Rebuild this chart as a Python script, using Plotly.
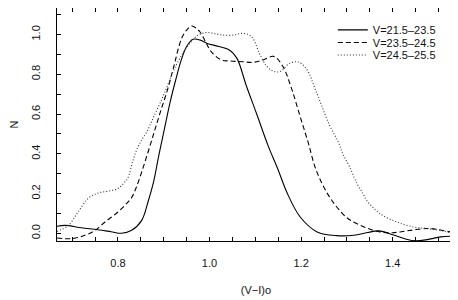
import plotly.graph_objects as go

# Solid: V=21.5-23.5
x1 = [0.667, 0.685, 0.72, 0.756, 0.785, 0.808, 0.83, 0.852, 0.866, 0.878, 0.89, 0.902, 0.914, 0.926,
      0.938, 0.95, 0.964, 0.98, 0.995, 1.02, 1.045, 1.06, 1.08, 1.103, 1.128, 1.148, 1.17, 1.198,
      1.235, 1.278, 1.315, 1.345, 1.37, 1.40, 1.43, 1.45, 1.475, 1.505, 1.535]
y1 = [0.035, 0.04, 0.028, 0.018, 0.008, 0.0, 0.015, 0.065, 0.16, 0.26, 0.40, 0.53, 0.66, 0.77,
      0.87, 0.94, 0.976, 0.972, 0.955, 0.94, 0.92, 0.88, 0.745, 0.60, 0.44, 0.33, 0.20, 0.082,
      0.007, -0.012, -0.01, 0.004, 0.012, -0.007, -0.03, -0.038, -0.032, -0.018, -0.014]

# Dashed: V=23.5-24.5
x2 = [0.667, 0.699, 0.728, 0.75, 0.772, 0.80, 0.819, 0.83, 0.84, 0.855, 0.87, 0.882, 0.894, 0.908,
      0.921, 0.939, 0.951, 0.961, 0.979, 0.992, 1.004, 1.026, 1.045, 1.074, 1.095, 1.117, 1.14,
      1.16, 1.179, 1.197, 1.215, 1.233, 1.262, 1.298, 1.32, 1.346, 1.372, 1.40, 1.43, 1.474,
      1.496, 1.525, 1.535]
y2 = [-0.024, -0.027, -0.01, 0.015, 0.057, 0.107, 0.15, 0.18, 0.23, 0.33, 0.44, 0.53, 0.62, 0.72,
      0.83, 0.98, 1.025, 1.043, 1.014, 0.96, 0.913, 0.872, 0.867, 0.863, 0.86, 0.872, 0.89,
      0.84, 0.729, 0.594, 0.46, 0.317, 0.183, 0.082, 0.05, 0.024, 0.007, 0.003, 0.012, 0.024,
      0.02, 0.007, 0.003]

# Dotted: V=24.5-25.5
x3 = [0.667, 0.692, 0.713, 0.735, 0.757, 0.779, 0.80, 0.812, 0.822, 0.832, 0.841, 0.852, 0.863,
      0.877, 0.895, 0.906, 0.92, 0.935, 0.957, 0.975, 0.993, 1.012, 1.03, 1.052, 1.07, 1.085,
      1.095, 1.11, 1.125, 1.14, 1.153, 1.175, 1.193, 1.211, 1.233, 1.262, 1.281, 1.291, 1.306,
      1.322, 1.335, 1.343, 1.372, 1.409, 1.445, 1.474, 1.51, 1.535]
y3 = [0.01, 0.04, 0.107, 0.175, 0.203, 0.212, 0.225, 0.25, 0.28, 0.36, 0.42, 0.47, 0.51,
      0.58, 0.67, 0.73, 0.81, 0.88, 0.956, 0.997, 1.01, 1.004, 0.997, 0.997, 1.006, 1.0,
      0.98, 0.90, 0.84, 0.815, 0.813, 0.855, 0.862, 0.83, 0.712, 0.544, 0.46, 0.40, 0.334,
      0.25, 0.20, 0.166, 0.099, 0.057, 0.032, 0.024, 0.012, -0.005]

names = ["V=21.5\u201323.5", "V=23.5\u201324.5", "V=24.5\u201325.5"]
dashes = ["solid", "5px,3px", "1px,2px"]
colors = ["black", "black", "#333333"]
legend_ids = ["legend", "legend2", "legend3"]

FONT = "Liberation Sans, Arial, Helvetica, sans-serif"
fig = go.Figure()
for xs, ys, nm, ds, col, lg in zip([x1, x2, x3], [y1, y2, y3], names, dashes, colors, legend_ids):
    fig.add_trace(go.Scatter(x=xs, y=ys, mode="lines", name=nm, legend=lg,
                             line=dict(color=col, width=1.1, dash=ds, shape="spline", smoothing=1.0)))

leg_common = dict(x=0.693, xanchor="left", yanchor="middle", bgcolor="rgba(0,0,0,0)",
                  borderwidth=0, font=dict(family=FONT, size=11, color="#111"))
fig.update_layout(
    width=450, height=292,
    margin=dict(l=49, r=3, t=0, b=59, autoexpand=False),
    paper_bgcolor="white", plot_bgcolor="white",
    font=dict(family=FONT, size=11, color="#111"),
    showlegend=True,
    legend=dict(y=0.906, **leg_common),
    legend2=dict(y=0.852, **leg_common),
    legend3=dict(y=0.798, **leg_common),
    xaxis=dict(range=[0.667, 1.536], tick0=0, dtick=0.2, tickformat=".1f", automargin=False,
               ticks="inside", ticklen=4, tickcolor="black", showgrid=False, zeroline=False,
               showline=True, linecolor="black", linewidth=1, mirror="allticks",
               minor=dict(dtick=0.05, ticks="inside", ticklen=4, tickcolor="black", showgrid=False),
               ticklabelstandoff=12,
               title=dict(text="(V\u2212I)o", standoff=18, font=dict(size=11))),
    yaxis=dict(range=[-0.0388, 1.1335], tick0=0, dtick=0.2, tickformat=".1f", tickangle=-90,
               automargin=False,
               ticks="inside", ticklen=4, tickcolor="black", showgrid=False, zeroline=False,
               showline=True, linecolor="black", linewidth=1, mirror="allticks",
               minor=dict(dtick=0.1, ticks="inside", ticklen=4, tickcolor="black", showgrid=False),
               ticklabelstandoff=12,
               title=dict(text="N", standoff=19, font=dict(size=11))),
)
fig.write_html("out.html")
